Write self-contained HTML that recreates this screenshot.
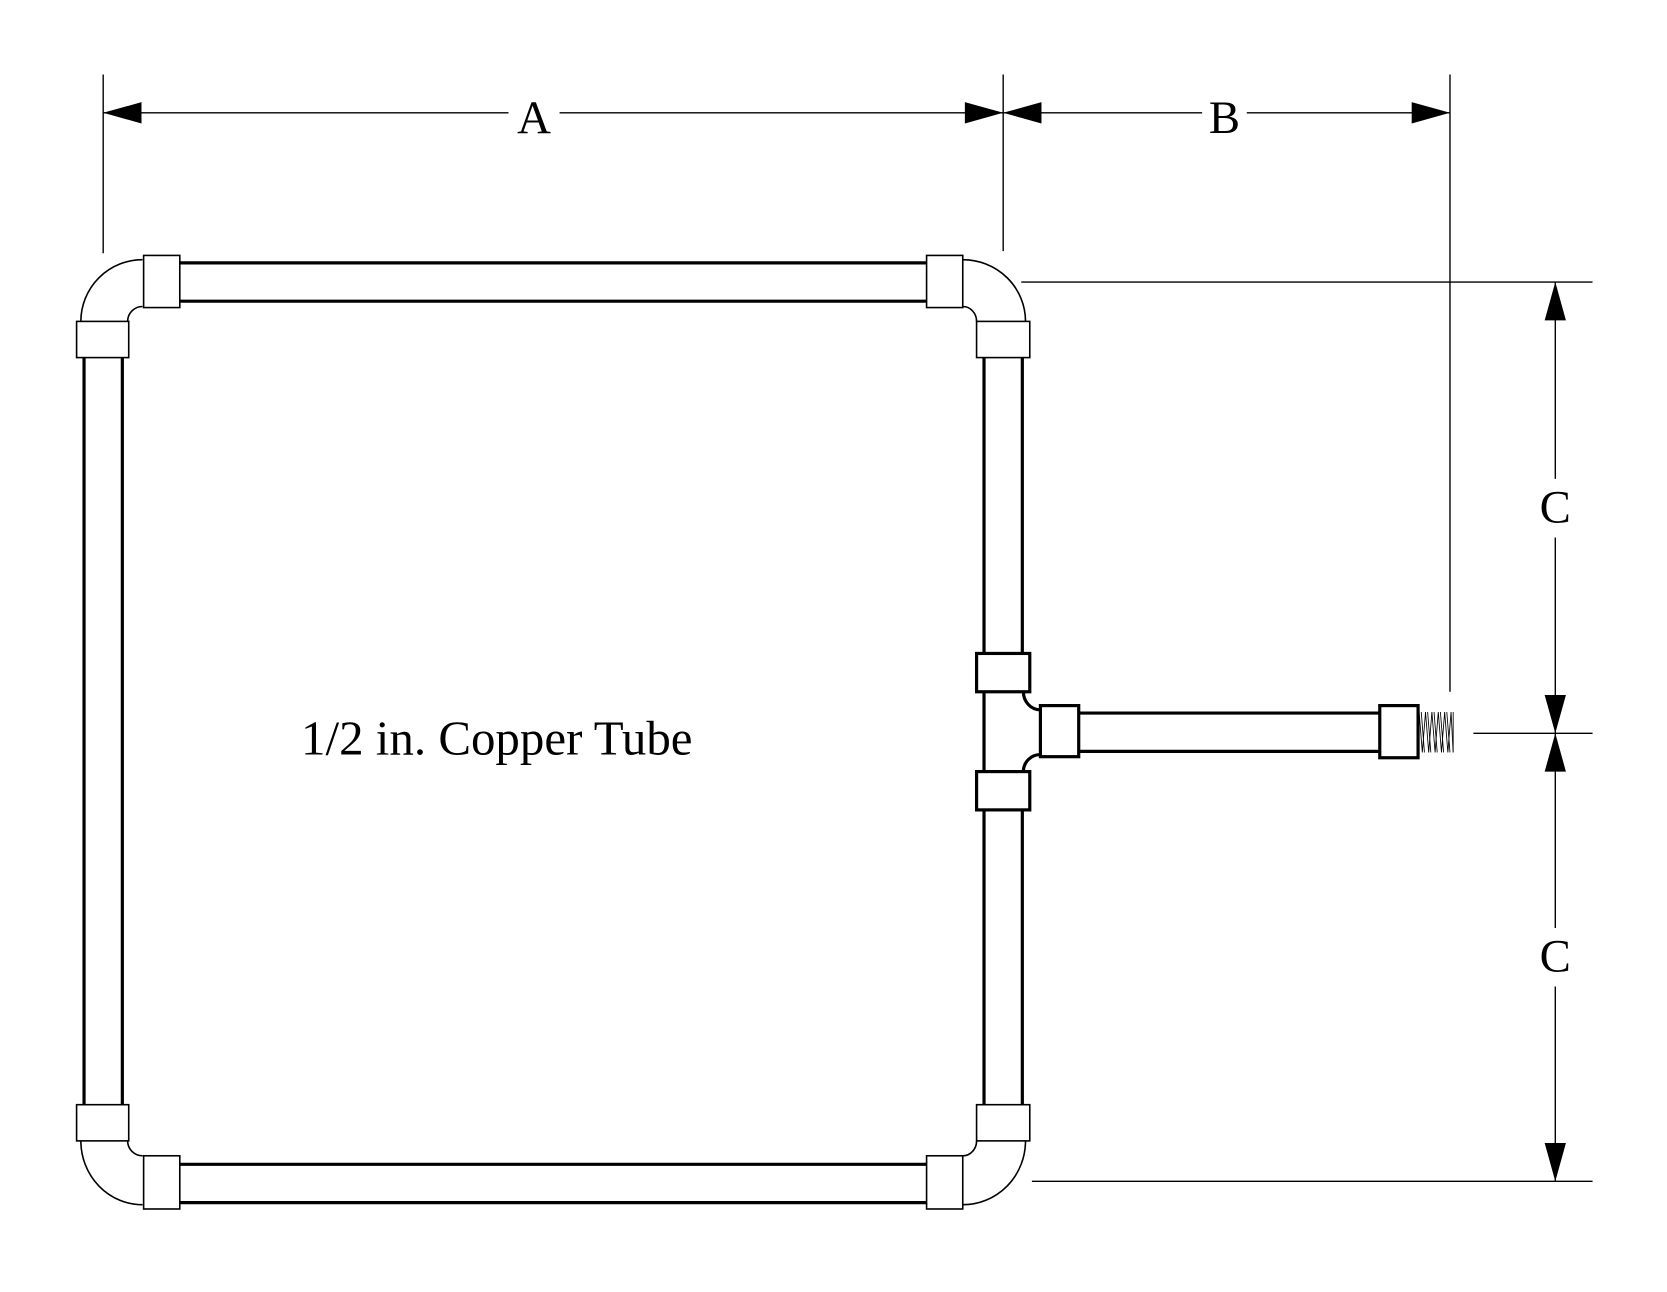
<!DOCTYPE html>
<html><head><meta charset="utf-8"><style>html,body{margin:0;padding:0;background:#fff}svg{display:block}</style></head>
<body>
<svg width="1667" height="1292" viewBox="0 0 1567 1214" preserveAspectRatio="none" xmlns="http://www.w3.org/2000/svg">
<rect width="1567" height="1214" fill="#fff"/>
<g stroke="#000" stroke-width="1.3" fill="none">
<line x1="97" y1="70" x2="97" y2="238"/>
<line x1="943" y1="70" x2="943" y2="236"/>
<line x1="1363" y1="70" x2="1363" y2="650"/>
<line x1="960" y1="265" x2="1497" y2="265"/>
<line x1="1385" y1="689" x2="1497" y2="689"/>
<line x1="970" y1="1110" x2="1497" y2="1110"/>
<line x1="97" y1="106" x2="478" y2="106"/>
<line x1="526" y1="106" x2="943" y2="106"/>
<line x1="943" y1="106" x2="1130" y2="106"/>
<line x1="1172" y1="106" x2="1363" y2="106"/>
<line x1="1462" y1="265" x2="1462" y2="450"/>
<line x1="1462" y1="505" x2="1462" y2="872"/>
<line x1="1462" y1="927" x2="1462" y2="1110"/>
</g>
<g fill="#000">
<polygon points="97,106 133,96 133,116"/>
<polygon points="943,106 907,96 907,116"/>
<polygon points="943,106 979,96 979,116"/>
<polygon points="1363,106 1327,96 1327,116"/>
<polygon points="1462,265 1452,301 1472,301"/>
<polygon points="1462,689 1452,653 1472,653"/>
<polygon points="1462,689 1452,725 1472,725"/>
<polygon points="1462,1110 1452,1074 1472,1074"/>
</g>
<g font-family="'Liberation Serif', serif" fill="#000" text-anchor="middle">
<text x="502" y="125" font-size="44">A</text>
<text x="1151" y="125" font-size="44">B</text>
<text x="1462" y="491" font-size="44">C</text>
<text x="1462" y="913" font-size="44">C</text>
<text x="467" y="709" font-size="46">1/2 in. Copper Tube</text>
</g>
<g stroke="#000" stroke-width="3" fill="none">
<line x1="169" y1="247" x2="871" y2="247"/>
<line x1="169" y1="283" x2="871" y2="283"/>
<line x1="169" y1="1094" x2="871" y2="1094"/>
<line x1="169" y1="1130" x2="871" y2="1130"/>
<line x1="79" y1="336" x2="79" y2="1038"/>
<line x1="115" y1="336" x2="115" y2="1038"/>
<line x1="925" y1="336" x2="925" y2="614"/>
<line x1="961" y1="336" x2="961" y2="614"/>
<line x1="925" y1="761" x2="925" y2="1038"/>
<line x1="961" y1="761" x2="961" y2="1038"/>
<line x1="1014" y1="670" x2="1297" y2="670"/>
<line x1="1014" y1="706" x2="1297" y2="706"/>
<line x1="925" y1="650" x2="925" y2="725"/>
<path d="M962,650 A16,17 0 0 0 978,667"/>
<path d="M978,709 A16,16 0 0 0 962,725"/>
<rect x="918" y="614" width="50" height="36"/>
<rect x="918" y="725" width="50" height="36"/>
<rect x="978" y="663" width="36" height="48"/>
<rect x="1297" y="663" width="36" height="49"/>
</g>
<g stroke="#000" stroke-width="1.5" fill="#fff">
<path d="M134,244 A58,58 0 0 0 76,302" fill="none"/>
<path d="M134,288 A14,14 0 0 0 120,302" fill="none"/>
<path d="M905,244 A59,58 0 0 1 964,302" fill="none"/>
<path d="M905,288 A13,14 0 0 1 918,302" fill="none"/>
<path d="M76,1072 A58,60 0 0 0 134,1132" fill="none"/>
<path d="M120,1072 A14,14 0 0 0 134,1086" fill="none"/>
<path d="M964,1072 A59,60 0 0 1 905,1132" fill="none"/>
<path d="M918,1072 A13,14 0 0 1 905,1086" fill="none"/>
<rect x="135" y="240" width="34" height="49"/>
<rect x="72" y="302" width="49" height="34"/>
<rect x="871" y="240" width="34" height="49"/>
<rect x="918" y="302" width="50" height="34"/>
<rect x="135" y="1086" width="34" height="50"/>
<rect x="72" y="1038" width="49" height="34"/>
<rect x="871" y="1086" width="34" height="50"/>
<rect x="918" y="1038" width="50" height="34"/>
</g>
<g stroke="#000" stroke-width="0.8" fill="none">
<path d="M1334,669 L1337,707 L1340,669 L1343,707 L1346,669 L1349,707 L1352,669 L1355,707 L1358,669 L1361,707 L1364,669 L1366,707"/>
<path d="M1336,669 L1339,707 M1342,669 L1345,707 M1348,669 L1351,707 M1354,669 L1357,707 M1360,669 L1363,707"/>
<line x1="1366" y1="669" x2="1366" y2="707"/>
</g>
</svg>
</body></html>
